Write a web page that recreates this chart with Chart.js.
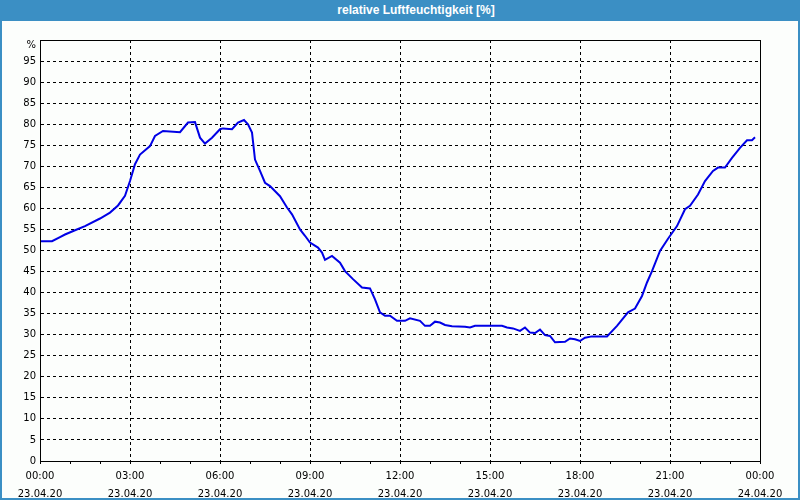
<!DOCTYPE html>
<html>
<head>
<meta charset="utf-8">
<script src="https://cdn.jsdelivr.net/npm/chart.js@4"></script>
<style>
  body { margin: 0; background: #fff; }
  #wrap { position: relative; width: 800px; height: 500px; background: #fcfefc; overflow: hidden; }
  #title {
    position: absolute; left: 0; top: 0; width: 800px; height: 21px;
    background: #3b8fc4; color: #fff; font: bold 12px "Liberation Sans", sans-serif;
    line-height: 21px; text-align: center; text-indent: 32px; z-index: 2;
  }
  #frame {
    position: absolute; left: 0; top: 0; width: 800px; height: 500px; box-sizing: border-box;
    border: 2px solid #3b8fc4; border-top: none; pointer-events: none; z-index: 2;
  }
  canvas { position: absolute; left: 0; top: 0; }
</style>
</head>
<body>
<div id="wrap">
  <div id="title">relative Luftfeuchtigkeit [%]</div>
  <canvas id="chart" width="800" height="500"></canvas>
  <div id="frame"></div>
</div>
<script>
//minutes since 23.04.20 00:00
var times = [0, 24, 40, 50, 70, 90, 120, 140, 156, 170, 180, 190, 200, 220, 230, 246, 280, 296, 310,
  320, 330, 344, 360, 366, 384, 396, 408, 416, 424, 430, 440, 450, 460, 480, 494, 504, 520, 530, 540,
  556, 564, 570, 584, 600, 610, 626, 644, 660, 670, 680, 690, 700, 714, 730, 740, 760, 770, 780, 790,
  800, 810, 824, 850, 860, 870, 924, 934, 946, 960, 970, 980, 990, 1000, 1010, 1020, 1030, 1050, 1060,
  1070, 1080, 1090, 1104, 1134, 1154, 1176, 1190, 1204, 1214, 1224, 1240, 1256, 1274, 1290, 1300,
  1316, 1330, 1346, 1356, 1370, 1384, 1400, 1414, 1424, 1430];

//relative humidity in %
var humidity = [52.2, 52.2, 53.2, 53.8, 54.8, 55.8, 57.6, 59, 60.7, 63, 66.5, 70.5, 72.8, 74.8, 77.2, 78.4, 78.1, 80.4, 80.5,
  76.8, 75.4, 76.8, 78.8, 79, 78.8, 80.4, 81, 80, 78, 71.6, 68.9, 66.1, 65.3, 62.9, 60.2, 58.6, 55, 53.5, 51.9,
  50.7, 49.5, 47.8, 48.7, 47.1, 45.1, 43.2, 41.2, 41, 38.4, 35.3, 34.5, 34.5, 33.3, 33.3, 33.9, 33.3, 32.1, 32.1, 33.1,
  32.9, 32.3, 32, 31.9, 31.7, 32.1, 32.1, 31.7, 31.5, 30.9, 31.7, 30.5, 30.4, 31.2, 29.9, 29.7, 28.2, 28.3, 29.1,
  28.9, 28.5, 29.3, 29.6, 29.6, 32.1, 35.3, 36.2, 39.2, 42.4, 45.1, 49.9, 52.8, 55.8, 59.8, 60.6,
  63.3, 66.5, 68.9, 69.7, 69.7, 72, 74.4, 76.2, 76.2, 76.9];

//labels every 3 hours
var tickTimes = ['00:00', '03:00', '06:00', '09:00', '12:00', '15:00', '18:00', '21:00', '00:00'];
var tickDates = ['23.04.20', '23.04.20', '23.04.20', '23.04.20', '23.04.20', '23.04.20', '23.04.20', '23.04.20', '24.04.20'];

var points = times.map(function (t, i) { return {x: t, y: humidity[i]}; });

//frame round the plot area
var boxPlugin = {
  id: 'box',
  afterDraw: function (chart) {
    var a = chart.chartArea, ctx = chart.ctx;
    ctx.save();
    ctx.strokeStyle = '#000';
    ctx.lineWidth = 1;
    ctx.strokeRect(Math.round(a.left) + 0.5, Math.round(a.top) + 0.5,
      Math.round(a.right - a.left), Math.round(a.bottom - a.top));
    ctx.restore();
  }
};

var ctx = document.getElementById('chart').getContext('2d');
var chart = new Chart(ctx, {
  type: 'line',
  data: {
    datasets: [{
      data: points,
      borderColor: '#0000e6',
      borderWidth: 2,
      pointRadius: 0,
      tension: 0,
      fill: false
    }]
  },
  options: {
    responsive: false,
    animation: false,
    layout: { padding: { left: 0, right: 40, top: 40, bottom: 0 } },
    plugins: { legend: { display: false }, tooltip: { enabled: false }, title: { display: false } },
    scales: {
      x: {
        type: 'linear',
        min: 0,
        max: 1440,
        afterFit: function (s) { s.height = 39; },
        ticks: {
          stepSize: 60,
          autoSkip: false,
          maxRotation: 0,
          padding: 3,
          color: '#000',
          font: { family: 'DejaVu Sans', size: 10, lineHeight: 1.8 },
          callback: function (v) {
            if (v % 180 !== 0) return '';
            var i = v / 180;
            return [tickTimes[i], tickDates[i]];
          }
        },
        grid: {
          color: function (c) { return c.tick && c.tick.value % 180 === 0 ? '#000' : 'rgba(0,0,0,0)'; },
          tickColor: '#000',
          tickLength: 3,
          lineWidth: 1
        },
        border: { display: true, color: '#000', dash: [3, 3] }
      },
      y: {
        min: 0,
        max: 100,
        afterFit: function (s) { s.width = 40; },
        ticks: {
          stepSize: 5,
          autoSkip: false,
          padding: 4,
          color: '#000',
          font: { family: 'DejaVu Sans', size: 10, lineHeight: 1.1 },
          callback: function (v) { return v === 100 ? ['', '%'] : v; }
        },
        grid: { color: '#000', drawTicks: false, lineWidth: 1 },
        border: { display: true, color: '#000', dash: [3, 3] }
      }
    }
  },
  plugins: [boxPlugin]
});
</script>
</body>
</html>
